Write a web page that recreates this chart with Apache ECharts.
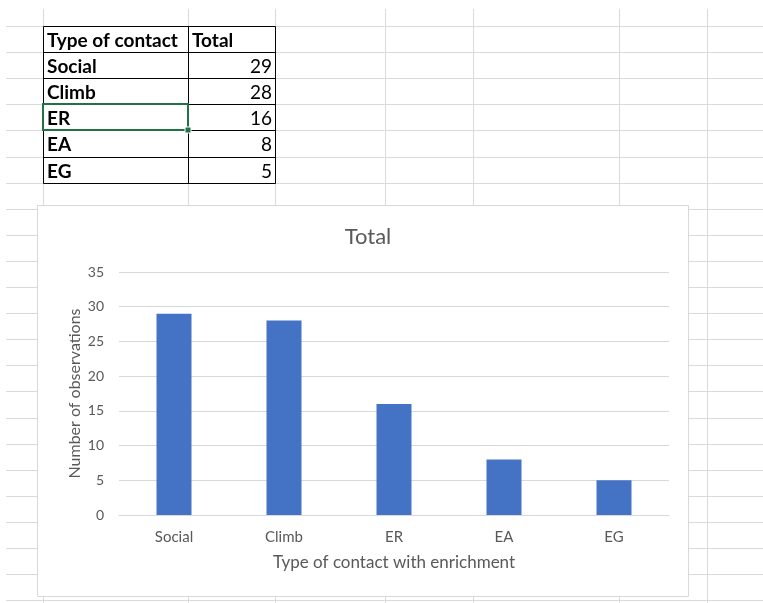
<!DOCTYPE html>
<html>
<head>
<meta charset="utf-8">
<script src="https://cdn.jsdelivr.net/npm/echarts@6/dist/echarts.min.js"></script>
<style>
  html, body { margin: 0; padding: 0; background: #fff; }
  #main { width: 763px; height: 603px; }
</style>
</head>
<body>
<div id="main"></div>
<script>
// Observations per type of contact with enrichment
const headers = ['Type of contact', 'Total'];
const categories = ['Social', 'Climb', 'ER', 'EA', 'EG'];
const totals = [29, 28, 16, 8, 5];
const chartTitle = 'Total';
const xAxisTitle = 'Type of contact with enrichment';
const yAxisTitle = 'Number of observations';

const FONT = 'Lato, "Noto Sans", sans-serif';
const sheetLine = '#dadada';

// Worksheet grid behind everything
const ROW_H = 26.1, FIRST_ROW = 26;
const colX = [43, 188, 275, 385, 473, 619, 707];
const elements = [];
for (let k = 0; FIRST_ROW + k * ROW_H < 603; k++) {
  const y = Math.round(FIRST_ROW + k * ROW_H) + 0.5;
  elements.push({ type: 'line', z: -10, silent: true,
    shape: { x1: 6, y1: y, x2: 763, y2: y },
    style: { stroke: sheetLine, lineWidth: 1 } });
}
colX.forEach(x => {
  elements.push({ type: 'line', z: -10, silent: true,
    shape: { x1: x + 0.5, y1: 9, x2: x + 0.5, y2: 603 },
    style: { stroke: sheetLine, lineWidth: 1 } });
});

// Data table (A1:B6)
const tLeft = 43, tMid = 188, tRight = 275;
const rowsY = [];
for (let r = 0; r <= categories.length + 1; r++) rowsY.push(Math.round(FIRST_ROW + r * ROW_H) + 0.5);
elements.push({ type: 'rect', z: -9, silent: true,
  shape: { x: tLeft, y: rowsY[0], width: tRight - tLeft, height: rowsY[rowsY.length - 1] - rowsY[0] },
  style: { fill: '#fff', stroke: null } });
rowsY.forEach(y => elements.push({ type: 'line', z: 3, silent: true,
  shape: { x1: tLeft + 0.5, y1: y, x2: tRight + 0.5, y2: y }, style: { stroke: '#000', lineWidth: 1 } }));
[tLeft, tMid, tRight].forEach(x => elements.push({ type: 'line', z: 3, silent: true,
  shape: { x1: x + 0.5, y1: rowsY[0], x2: x + 0.5, y2: rowsY[rowsY.length - 1] }, style: { stroke: '#000', lineWidth: 1 } }));

const cellFont = 19;
elements.push({ type: 'text', z: 4, silent: true, x: tLeft + 4, y: (rowsY[0] + rowsY[1]) / 2 + 1,
  style: { text: headers[0], font: `bold ${cellFont}px ${FONT}`, fill: '#000', textVerticalAlign: 'middle' } });
elements.push({ type: 'text', z: 4, silent: true, x: tMid + 4, y: (rowsY[0] + rowsY[1]) / 2 + 1,
  style: { text: headers[1], font: `bold ${cellFont}px ${FONT}`, fill: '#000', textVerticalAlign: 'middle' } });
categories.forEach((c, i) => {
  const cy = (rowsY[i + 1] + rowsY[i + 2]) / 2 + 1;
  elements.push({ type: 'text', z: 4, silent: true, x: tLeft + 4, y: cy,
    style: { text: c, font: `bold ${cellFont}px ${FONT}`, fill: '#000', textVerticalAlign: 'middle' } });
  elements.push({ type: 'text', z: 4, silent: true, x: tRight - 3, y: cy,
    style: { text: String(totals[i]), font: `${cellFont}px ${FONT}`, fill: '#000', textAlign: 'right', textVerticalAlign: 'middle' } });
});

// Active cell outline on the "ER" row
const selRow = categories.indexOf('ER') + 1;
elements.push({ type: 'rect', z: 5, silent: true,
  shape: { x: tLeft, y: rowsY[selRow] - 0.5, width: tMid - tLeft, height: rowsY[selRow + 1] - rowsY[selRow] },
  style: { fill: null, stroke: '#217346', lineWidth: 2 } });
elements.push({ type: 'rect', z: 6, silent: true,
  shape: { x: tMid - 3, y: rowsY[selRow + 1] - 3.5, width: 6, height: 6 },
  style: { fill: '#217346', stroke: '#fff', lineWidth: 1 } });

// Chart area frame
elements.push({ type: 'rect', z: -5, silent: true,
  shape: { x: 37.5, y: 205.5, width: 651, height: 391 },
  style: { fill: '#fff', stroke: '#d9d9d9', lineWidth: 1 } });

const chart = echarts.init(document.getElementById('main'), null, { renderer: 'canvas' });
chart.setOption({
  animation: false,
  backgroundColor: '#fff',
  graphic: { elements },
  title: {
    text: chartTitle, left: 363, top: 221, textAlign: 'center',
    textStyle: { fontFamily: FONT, fontSize: 22, fontWeight: 'normal', color: '#595959' }
  },
  grid: { left: 119, right: 94, top: 272, bottom: 88 },
  xAxis: {
    type: 'category', data: categories, z: 5,
    name: xAxisTitle, nameLocation: 'middle', nameGap: 39,
    nameTextStyle: { fontFamily: FONT, fontSize: 17, color: '#595959' },
    axisLine: { show: true, lineStyle: { color: '#d9d9d9' } },
    axisTick: { show: false },
    axisLabel: { fontFamily: FONT, fontSize: 15, color: '#595959', margin: 15 }
  },
  yAxis: {
    type: 'value', min: 0, max: 35, interval: 5, z: 5,
    name: yAxisTitle, nameLocation: 'middle', nameGap: 36, nameRotate: 90,
    nameMoveOverlap: false,
    nameTextStyle: { fontFamily: FONT, fontSize: 16, color: '#595959' },
    axisLine: { show: false }, axisTick: { show: false },
    axisLabel: { fontFamily: FONT, fontSize: 14, color: '#595959', margin: 15 },
    splitLine: { lineStyle: { color: '#d9d9d9', width: 1 } }
  },
  series: [{
    type: 'bar', data: totals, barWidth: 35, z: 6,
    itemStyle: { color: '#4472c4' }
  }]
});
</script>
</body>
</html>
